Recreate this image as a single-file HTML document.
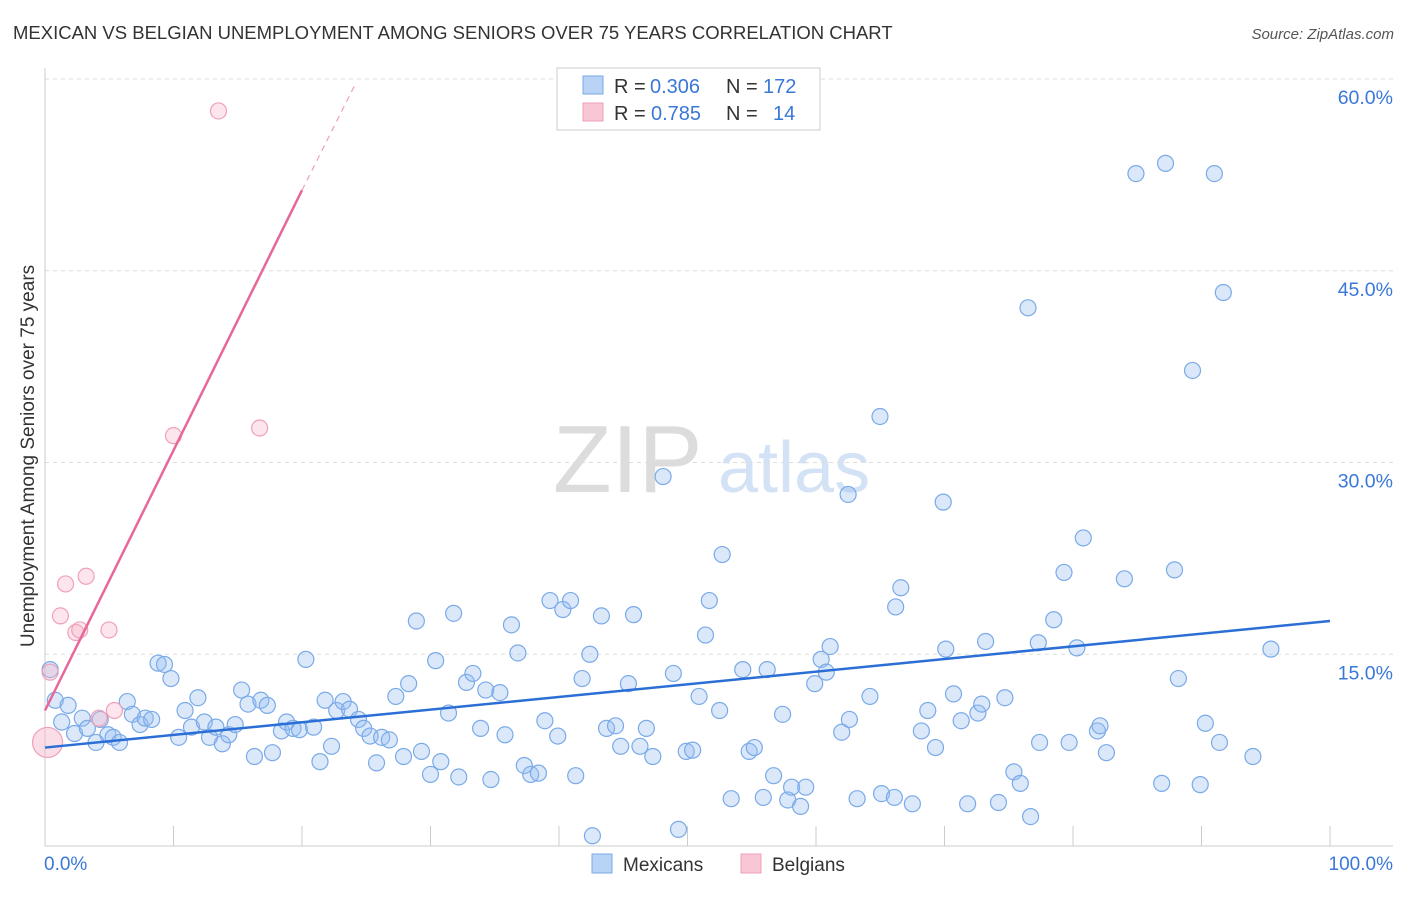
<!DOCTYPE html>
<html><head><meta charset="utf-8">
<style>
body{margin:0;background:#fff;font-family:"Liberation Sans",sans-serif;}
svg text{font-family:"Liberation Sans",sans-serif;}
</style></head>
<body>
<svg id="chart" width="1406" height="892" xmlns="http://www.w3.org/2000/svg">
<text x="13" y="39" font-size="18.5" fill="#333">MEXICAN VS BELGIAN UNEMPLOYMENT AMONG SENIORS OVER 75 YEARS CORRELATION CHART</text>
<text x="1394" y="39" font-size="15" fill="#555" text-anchor="end" font-style="italic">Source: ZipAtlas.com</text>
<g>
<text x="553" y="492" font-size="96" fill="#dcdcdc" font-family="Liberation Serif,serif">ZIP</text>
<text x="718" y="492" font-size="72" fill="#d3e2f5">atlas</text>
</g>
<g id="grid"></g>
<g id="axes"></g>
<g id="marks"></g>
<text transform="translate(34,456) rotate(-90)" font-size="19" fill="#333" text-anchor="middle">Unemployment Among Seniors over 75 years</text>
<g>
<rect x="557" y="68" width="263" height="62" fill="#fff" stroke="#ccc"/>
<rect x="583" y="76" width="20" height="18" fill="#b8d3f5" stroke="#7aaae8"/>
<rect x="583" y="103" width="20" height="18" fill="#f8c6d4" stroke="#f0a0b8"/>
<text x="614" y="93" font-size="20" fill="#333">R =</text>
<text x="650" y="93" font-size="20" fill="#3a78d8">0.306</text>
<text x="726" y="93" font-size="20" fill="#333">N =</text>
<text x="763" y="93" font-size="20" fill="#3a78d8">172</text>
<text x="614" y="120" font-size="20" fill="#333">R =</text>
<text x="651" y="120" font-size="20" fill="#3a78d8">0.785</text>
<text x="726" y="120" font-size="20" fill="#333">N =</text>
<text x="773" y="120" font-size="20" fill="#3a78d8">14</text>
</g>
<g>
<rect x="592" y="854" width="20" height="19" fill="#b8d3f5" stroke="#7aaae8"/>
<text x="623" y="871" font-size="19" fill="#333">Mexicans</text>
<rect x="741" y="854" width="20" height="19" fill="#f8c6d4" stroke="#f0a0b8"/>
<text x="772" y="871" font-size="19" fill="#333">Belgians</text>
</g>
</svg>
<script>
const yTicks=[15,30,45,60];
const yTickLabels=["15.0%","30.0%","45.0%","60.0%"];
const xTicks=[0,10,20,30,40,50,60,70,80,90,100];
const mexX=[0.4,0.8,1.3,1.8,2.3,2.9,3.3,3.97,4.3,4.9,5.3,5.8,6.4,6.8,7.4,7.8,8.3,8.8,9.3,9.8,10.4,10.9,11.4,11.9,12.4,12.8,13.3,13.8,14.3,14.8,15.3,15.8,16.3,16.8,17.3,17.7,18.4,18.8,19.3,19.8,20.3,20.9,21.4,21.8,22.3,22.7,23.2,23.7,24.4,24.8,25.3,25.8,26.2,26.8,27.3,27.9,28.3,28.9,29.3,30.0,30.4,30.8,31.4,31.8,32.2,32.8,33.3,33.9,34.3,34.7,35.4,35.8,36.3,36.8,37.3,37.8,38.4,38.9,39.3,39.9,40.3,40.9,41.3,41.8,42.4,42.6,43.3,43.7,44.4,44.8,45.4,45.8,46.3,46.8,47.3,48.1,48.9,49.3,49.9,50.4,50.9,51.4,51.7,52.5,52.7,53.4,54.3,54.8,55.2,55.9,56.2,56.7,57.4,57.8,58.1,58.8,59.2,59.9,60.4,60.8,61.1,62.0,62.5,62.6,63.2,64.2,64.98,65.1,66.1,66.2,66.6,67.5,68.2,68.7,69.3,69.9,70.1,70.7,71.3,71.8,72.6,72.9,73.2,74.2,74.7,75.4,75.9,76.5,76.7,77.3,77.4,78.5,79.3,79.7,80.3,80.8,81.9,82.1,82.6,84.0,84.9,86.9,87.2,87.9,88.2,89.3,89.9,90.3,91.0,91.4,91.7,94.0,95.4];
const mexY=[13.8,11.4,9.7,11.0,8.8,10.0,9.2,8.1,9.9,8.7,8.5,8.1,11.3,10.3,9.5,10.0,9.9,14.3,14.2,13.1,8.5,10.6,9.3,11.6,9.7,8.5,9.3,8.0,8.7,9.5,12.2,11.1,7.0,11.4,11.0,7.3,9.0,9.7,9.2,9.1,14.6,9.3,6.6,11.4,7.8,10.6,11.3,10.7,9.9,9.2,8.6,6.5,8.5,8.3,11.7,7.0,12.7,17.6,7.4,5.6,14.5,6.6,10.4,18.2,5.4,12.8,13.5,9.2,12.2,5.2,12.0,8.7,17.3,15.1,6.3,5.6,5.7,9.8,19.2,8.6,18.5,19.2,5.5,13.1,15.0,0.8,18.0,9.2,9.4,7.8,12.7,18.1,7.8,9.2,7.0,28.9,13.5,1.3,7.4,7.5,11.7,16.5,19.2,10.6,22.8,3.7,13.8,7.4,7.7,3.8,13.8,5.5,10.3,3.6,4.6,3.1,4.6,12.7,14.6,13.6,15.6,8.9,27.5,9.9,3.7,11.7,33.6,4.1,3.8,18.7,20.2,3.3,9.0,10.6,7.7,26.9,15.4,11.9,9.8,3.3,10.4,11.1,16.0,3.4,11.6,5.8,4.9,42.1,2.3,15.9,8.1,17.7,21.4,8.1,15.5,24.1,9.0,9.4,7.3,20.9,52.6,4.9,53.4,21.6,13.1,37.2,4.8,9.6,52.6,8.1,43.3,7.0,15.4];
const belX=[0.4,1.2,1.6,2.4,2.7,3.2,4.2,4.98,5.4,10.0,13.5,16.7];
const belY=[13.6,18.0,20.5,16.7,16.9,21.1,10.0,16.9,10.6,32.1,57.5,32.7];
const belBigX=[0.2], belBigY=[8.1];
const mexTrend=[[0,7.7],[100,17.6]];
const belTrend=[[0,10.6],[20,51.3]];
const belTrendDash=[[20,51.3],[24.1,59.5]];

const X0=45,X1=1330,Y0=846,Y60=79;
const sx=v=>X0+(X1-X0)*v/100;
const sy=v=>Y0-(Y0-Y60)*v/60;
const NS="http://www.w3.org/2000/svg";
function mk(tag,attrs,parent){const e=document.createElementNS(NS,tag);for(const k in attrs)e.setAttribute(k,attrs[k]);parent.appendChild(e);return e;}
const grid=document.getElementById('grid'),axes=document.getElementById('axes'),marks=document.getElementById('marks');
yTicks.forEach((t,i)=>{
  const l=mk('line',{x1:X0,x2:1393,y1:sy(t),y2:sy(t),stroke:'#ddd','stroke-dasharray':'4,4'},grid);
  
  
  const tx=mk('text',{x:1393,y:sy(t)+25,'font-size':19.5,fill:'#3a78d8','text-anchor':'end'},axes);
  tx.textContent=yTickLabels[i];
  
  
});
const xa=mk('line',{x1:X0,x2:1393,y1:Y0,y2:Y0,stroke:'#ccc'},axes);


const ya=mk('line',{x1:X0,x2:X0,y1:68,y2:Y0,stroke:'#ccc'},axes);


xTicks.forEach(t=>{
  const l=mk('line',{x1:sx(t),x2:sx(t),y1:826,y2:Y0,stroke:'#ccc'},axes);
  
  
});
const xl0=mk('text',{x:44,y:870,'font-size':19,fill:'#3a78d8'},axes);xl0.textContent='0.0%';


const xl1=mk('text',{x:1393,y:870,'font-size':19,fill:'#3a78d8','text-anchor':'end'},axes);xl1.textContent='100.0%';



mexX.forEach((x,i)=>{
  const c=mk('circle',{cx:sx(x),cy:sy(mexY[i]),r:8,fill:'rgba(150,190,240,0.35)',stroke:'#7aaae8','stroke-width':1.2},marks);
  
  
});
belX.forEach((x,i)=>{
  const c=mk('circle',{cx:sx(x),cy:sy(belY[i]),r:8,fill:'rgba(245,180,200,0.35)',stroke:'#f0a0b8','stroke-width':1.2},marks);
  
  
});
belBigX.forEach((x,i)=>{
  const c=mk('circle',{cx:sx(x),cy:sy(belBigY[i]),r:15,fill:'rgba(245,180,200,0.45)',stroke:'#f0a0b8','stroke-width':1.2},marks);
  
  
});
const mt=mk('line',{x1:sx(mexTrend[0][0]),y1:sy(mexTrend[0][1]),x2:sx(mexTrend[1][0]),y2:sy(mexTrend[1][1]),stroke:'#2b6fd6','stroke-width':2.5},marks);


const bt=mk('line',{x1:sx(belTrend[0][0]),y1:sy(belTrend[0][1]),x2:sx(belTrend[1][0]),y2:sy(belTrend[1][1]),stroke:'#e8679a','stroke-width':2.5},marks);


const bd=mk('line',{x1:sx(belTrendDash[0][0]),y1:sy(belTrendDash[0][1]),x2:sx(belTrendDash[1][0]),y2:sy(belTrendDash[1][1]),stroke:'#f0a0b8','stroke-width':1.2,'stroke-dasharray':'6,5'},marks);


</script>
</body></html>
